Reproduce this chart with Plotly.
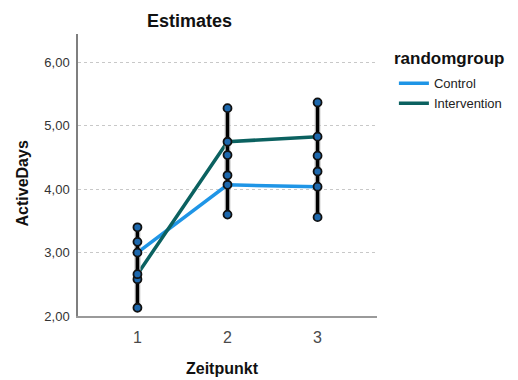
import plotly.graph_objects as go

# ---- data ----
zeitpunkt = [1, 2, 3]
groups = ["Control", "Intervention"]
means = {"Control": [3.00, 4.07, 4.04], "Intervention": [2.66, 4.75, 4.83]}
lower = {"Control": [2.58, 3.60, 3.56], "Intervention": [2.13, 4.22, 4.28]}
upper = {"Control": [3.40, 4.54, 4.53], "Intervention": [3.17, 5.28, 5.37]}
y_ticks = [2, 3, 4, 5, 6]
y_ticklabels = ["2,00", "3,00", "4,00", "5,00", "6,00"]
colors = {"Control": "#1f95e6", "Intervention": "#0b6160"}

FONT = "Liberation Sans, Arial, sans-serif"
fig = go.Figure()

# mean lines
for g in groups:
    fig.add_trace(go.Scatter(x=zeitpunkt, y=means[g], mode="lines", name=g,
                             line=dict(color=colors[g], width=3.5)))

# error bars (halo + black)
for g in groups:
    plus = [u - m for u, m in zip(upper[g], means[g])]
    minus = [m - l for m, l in zip(means[g], lower[g])]
    fig.add_trace(go.Scatter(x=zeitpunkt, y=means[g], mode="markers", showlegend=False,
                             marker=dict(size=1, opacity=0),
                             error_y=dict(type="data", symmetric=False, array=plus, arrayminus=minus,
                                          color="rgba(200,200,200,0.8)", thickness=6, width=0),
                             hoverinfo="skip"))
    fig.add_trace(go.Scatter(x=zeitpunkt, y=means[g], mode="markers", showlegend=False,
                             marker=dict(size=1, opacity=0),
                             error_y=dict(type="data", symmetric=False, array=plus, arrayminus=minus,
                                          color="#000000", thickness=3.5, width=0),
                             hoverinfo="skip"))

# markers at mean and CI ends
for g in groups:
    fig.add_trace(go.Scatter(x=zeitpunkt * 3, y=means[g] + lower[g] + upper[g], mode="markers",
                             showlegend=False,
                             marker=dict(size=8, color="#1d68ad", line=dict(color="#111111", width=1.8))))

fig.update_layout(
    width=518, height=380,
    margin=dict(l=78, r=140, t=34, b=64),
    paper_bgcolor="white", plot_bgcolor="white",
    font=dict(family=FONT, color="#222222"),
    showlegend=True,
    legend=dict(x=1.053, y=0.878, xanchor="left", yanchor="top",
                font=dict(size=13, color="#222222"), bgcolor="rgba(0,0,0,0)",
                itemwidth=30, tracegroupgap=0),
    xaxis=dict(range=[0.34, 3.66], tickvals=zeitpunkt, ticktext=[str(v) for v in zeitpunkt],
               showgrid=False, zeroline=False, showline=True, linecolor="#9a9a9a", linewidth=2,
               ticks="", tickfont=dict(size=16, color="#4a4a4a"), ticklabelstandoff=6),
    yaxis=dict(range=[2, 6.45], tickvals=y_ticks, ticktext=y_ticklabels,
               showgrid=True, gridcolor="#c8c8c8", griddash="3px,3px", gridwidth=1,
               zeroline=False, showline=True, linecolor="#7f7f7f", linewidth=1.5,
               ticks="", tickfont=dict(size=13, color="#333333"), ticklabelstandoff=4),
    annotations=[
        dict(text="<b>Estimates</b>", xref="paper", yref="paper", x=0.373, y=1.047,
             xanchor="center", yanchor="middle", showarrow=False,
             font=dict(size=18, color="#111111")),
        dict(text="<b>Zeitpunkt</b>", xref="paper", yref="paper", x=0.483, y=0,
             yshift=-52, xanchor="center", yanchor="middle", showarrow=False,
             font=dict(size=16, color="#111111")),
        dict(text="<b>ActiveDays</b>", xref="paper", yref="paper", x=0, y=0.47,
             xshift=-56, xanchor="center", yanchor="middle", showarrow=False, textangle=-90,
             font=dict(size=16, color="#111111")),
        dict(text="<b>randomgroup</b>", xref="paper", yref="paper", x=1.05, y=0,
             yshift=315.7 - 58, xanchor="left", yanchor="middle", showarrow=False,
             font=dict(size=17, color="#111111")),
    ],
)

fig.write_html("out.html")
